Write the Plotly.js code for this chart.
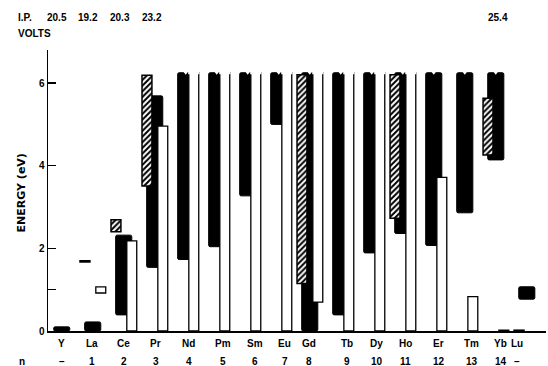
<!DOCTYPE html>
<html>
<head>
<meta charset="utf-8">
<script src="https://cdn.plot.ly/plotly-3.0.1.min.js"></script>
<style>html,body{margin:0;padding:0;background:#fff;}#chart{width:548px;height:366px;}</style>
</head>
<body>
<div id="chart"></div>
<script>
// ---------- data ----------
const elements = ["Y","La","Ce","Pr","Nd","Pm","Sm","Eu","Gd","Tb","Dy","Ho","Er","Tm","Yb","Lu"];
const nValues  = ["–","1","2","3","4","5","6","7","8","9","10","11","12","13","14","–"];
const ipVolts  = ["20.5","19.2","20.3","23.2","","","","","","","","","","","25.4",""];
const OPEN = 6.25;      // level continues off the top of the scale
const OPEN_H = 6.2;     // hatched level continuing off-scale
const blackLow  = [0, 0, 0.39, 1.54, 1.73, 2.04, 3.27, 5.00, 0, 0.39, 1.89, 2.36, 2.07, 2.86, 4.14, 0.77];
const blackHigh = [0.10, 0.22, 2.32, 5.69, OPEN, OPEN, OPEN, OPEN, OPEN, OPEN, OPEN, OPEN, OPEN, OPEN, OPEN, 1.07];
const whiteLow  = [null, 0.92, 0, 0, 0, 0, 0, 0, 0.70, 0, 0, 0, 0, 0, 0, null];
const whiteHigh = [null, 1.07, 2.18, 4.96, OPEN, OPEN, OPEN, OPEN, OPEN, OPEN, OPEN, OPEN, 3.72, 0.83, 0.02, null];
const hatchLow  = [null, 1.67, 2.40, 3.51, null, null, null, null, 1.15, null, null, 2.73, null, null, 4.26, 0];
const hatchHigh = [null, 1.70, 2.69, 6.19, null, null, null, null, OPEN_H, null, null, OPEN_H, null, null, 5.63, 0.02];

// ---------- layout constants ----------
const PX = 31; // pixels per category step
const labelShiftPx = [0,-1,0,1,3,6.5,7,6,-1,6,5,2.5,5,7,5,-10];
const ipShiftPx    = [-4.5,-4.5,-3.5,-2.5,0,0,0,0,0,0,0,0,0,0,2,0];
const idx = elements.map((_, i) => i);
const FONT = {family: "Liberation Sans, Arial, sans-serif", size: 10, color: "#000", weight: "bold"};
const TITLE_FONT = {family: "DejaVu Sans, sans-serif", size: 11, color: "#000", weight: "bold"};

function heights(lo, hi){ return lo.map((v,i)=> (v===null||hi[i]===null) ? null : +(hi[i]-v).toFixed(3)); }

const black = {
  type: "bar", x: idx, base: blackLow, y: heights(blackLow, blackHigh),
  width: 0.52, offset: -0.26,
  marker: {color: "#000", line: {color: "#000", width: 1}, cornerradius: 2},
  hoverinfo: "skip", showlegend: false
};
const hatched = {
  type: "bar", x: idx, base: hatchLow, y: heights(hatchLow, hatchHigh),
  width: 0.32, offset: -0.41,
  marker: {color: "#fff", line: {color: "#000", width: 1.5},
           pattern: {shape: "/", fgcolor: "#000", bgcolor: "#fff", size: 4, solidity: 0.5}},
  hoverinfo: "skip", showlegend: false
};
const white = {
  type: "bar", x: idx, base: whiteLow, y: heights(whiteLow, whiteHigh),
  width: 0.32, offset: 0.1,
  marker: {color: "#fff", line: {color: "#000", width: 1.3}},
  hoverinfo: "skip", showlegend: false
};
// notch on top of open-ended black levels
const notchX = [], notchY = [];
blackHigh.forEach((v,i)=>{ if(v===OPEN){ notchX.push(i); notchY.push(v); } });
const notches = {
  type: "scatter", mode: "markers", x: notchX, y: notchY,
  marker: {symbol: "triangle-down", size: 4, color: "#fff", line: {width: 0}},
  hoverinfo: "skip", showlegend: false, cliponaxis: false
};
// open tops of white levels that continue off-scale
const openX = [], openY = [];
whiteHigh.forEach((v,i)=>{ if(v===OPEN){ openX.push(i + 0.26); openY.push(v); } });
const openTops = {
  type: "scatter", mode: "markers", x: openX, y: openY,
  marker: {symbol: "line-ew", size: 8, line: {color: "#fff", width: 3}},
  hoverinfo: "skip", showlegend: false, cliponaxis: false
};

const annotations = [];
elements.forEach((e,i)=>{
  annotations.push({x: i + labelShiftPx[i]/PX, xref: "x", y: -0.043, yref: "paper",
    text: e, showarrow: false, xanchor: "center", yanchor: "middle", font: FONT});
  annotations.push({x: i + labelShiftPx[i]/PX, xref: "x", y: -0.107, yref: "paper",
    text: nValues[i], showarrow: false, xanchor: "center", yanchor: "middle", font: FONT});
  if (ipVolts[i]) annotations.push({x: i + ipShiftPx[i]/PX, xref: "x", y: 1.114, yref: "paper",
    text: ipVolts[i], showarrow: false, xanchor: "center", yanchor: "middle", font: FONT});
});
annotations.push({x: -0.062, xref: "paper", y: -0.107, yref: "paper", text: "n",
  showarrow: false, xanchor: "left", yanchor: "middle", font: FONT});
annotations.push({x: -0.064, xref: "paper", y: 1.114, yref: "paper", text: "I.P.",
  showarrow: false, xanchor: "left", yanchor: "middle", font: FONT});
annotations.push({x: -0.064, xref: "paper", y: 1.06, yref: "paper", text: "VOLTS",
  showarrow: false, xanchor: "left", yanchor: "middle", font: FONT});
annotations.push({x: -0.054, xref: "paper", y: 0.49, yref: "paper", text: "ENERGY (eV)",
  textangle: -90, showarrow: false, xanchor: "center", yanchor: "middle", font: TITLE_FONT});

const layout = {
  width: 548, height: 366,
  margin: {l: 48, r: 2, t: 50, b: 35},
  paper_bgcolor: "#fff", plot_bgcolor: "#fff",
  barmode: "overlay", bargap: 0,
  font: FONT,
  xaxis: {range: [-0.442, 15.62], showline: true, linecolor: "#000", linewidth: 1.5,
          showticklabels: false, ticks: "", showgrid: false, zeroline: false, fixedrange: true},
  yaxis: {range: [0, 6.8], showline: true, linecolor: "#000", linewidth: 1.5,
          ticks: "inside", ticklen: 8, tickwidth: 1.3, tickcolor: "#000",
          tickvals: [0,1,2,4,6], ticktext: ["0","","2","4","6"], tickfont: FONT,
          showgrid: false, zeroline: false, fixedrange: true},
  annotations: annotations,
  showlegend: false
};

Plotly.newPlot("chart", [black, hatched, white, notches, openTops], layout, {staticPlot: true, displayModeBar: false});
</script>
</body>
</html>
